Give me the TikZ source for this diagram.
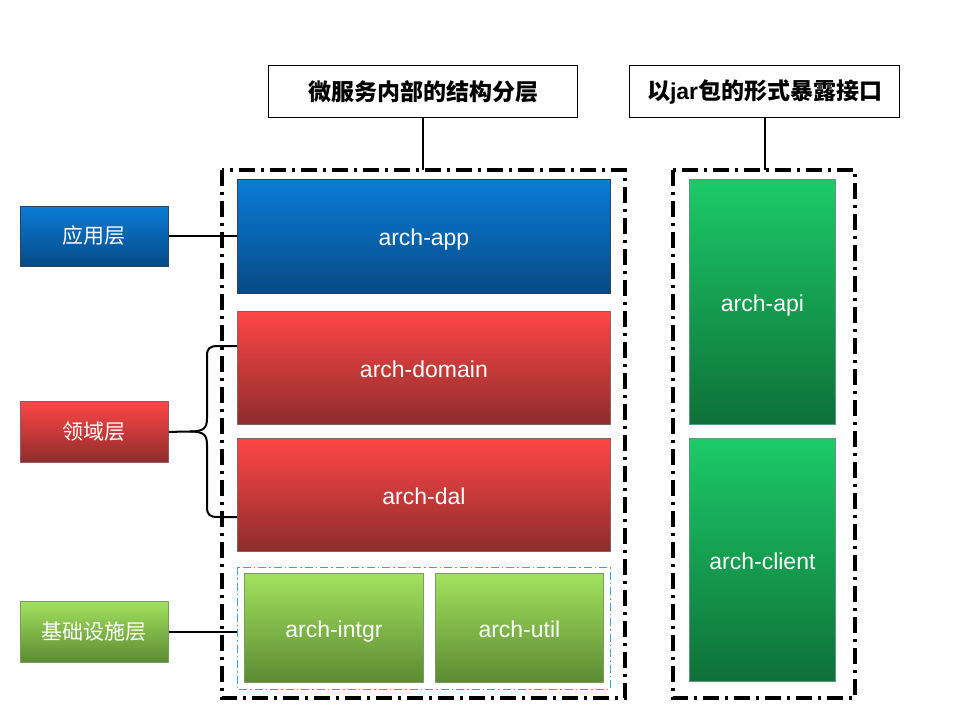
\documentclass[tikz,border=0pt]{standalone}
\usepackage{fontspec}
\setmainfont{Liberation Sans}
\newfontfamily\cjk{Noto Sans CJK SC}
\usetikzlibrary{positioning}
\begin{document}
\begin{tikzpicture}[x=1pt,y=-1pt,
  box/.style={draw=#1, line width=0.8pt, inner sep=0pt, anchor=north west, text=white, font=\fontsize{23}{26}\selectfont, text height=19pt, text depth=0pt},
  bluebox/.style={box=blueBd, top color=blueTop, bottom color=blueBot},
  redbox/.style={box=redBd, top color=redTop, bottom color=redBot},
  lgreen/.style={box=lgBd, top color=lgTop, bottom color=lgBot},
  dgreen/.style={box=dgBd, top color=dgTop, bottom color=dgBot},
  lab/.style={font=\cjk\fontsize{21}{24}\selectfont, text height=17pt, text depth=2pt},
  header/.style={draw=black, line width=1.2pt, anchor=north west, inner sep=0pt, font=\cjk\bfseries\fontsize{23}{26}\selectfont},
  frame/.style={draw=black, line width=3.4pt, dash pattern=on 16pt off 6pt on 3pt off 6pt},
  innerframe/.style={draw=cyanD, line width=1pt, dash pattern=on 8pt off 3pt on 1.5pt off 3pt},
  conn/.style={draw=black, line width=2pt}
]
\definecolor{blueTop}{HTML}{0A7CD6}
\definecolor{blueBot}{HTML}{064A86}
\definecolor{blueBd}{HTML}{304060}
\definecolor{redTop}{HTML}{FF4646}
\definecolor{redBot}{HTML}{8E2C2C}
\definecolor{redBd}{HTML}{8A6060}
\definecolor{lgTop}{HTML}{A2E25E}
\definecolor{lgBot}{HTML}{5C8A32}
\definecolor{lgBd}{HTML}{7A9A6A}
\definecolor{dgTop}{HTML}{1CCB68}
\definecolor{dgBot}{HTML}{0E7038}
\definecolor{dgBd}{HTML}{5A9A80}
\definecolor{cyanD}{HTML}{3AA6CC}
\useasboundingbox (0,0) rectangle (960,720);
\fill[white] (0,0) rectangle (960,720);

% headers
\node[header, minimum width=309pt, minimum height=52pt] (h1) at (268,65) {微服务内部的结构分层};
\node[header, minimum width=270pt, minimum height=52pt] (h2) at (629,65) {以{\fontspec{Liberation Sans}\bfseries jar}包的形式暴露接口};

% frames
\coordinate (f1nw) at (222,170);
\coordinate (f1se) at (625,698);
\coordinate (f2nw) at (673,170);
\coordinate (f2se) at (855,698);
\draw[frame] (f1nw) rectangle (f1se);
\draw[frame] (f2nw) rectangle (f2se);
\draw[conn] (h1.south) -- (h1.south |- f1nw);
\draw[conn] (h2.south) -- (h2.south |- f2nw);

% main boxes
\node[bluebox, minimum width=373pt, minimum height=114pt] (app) at (237,179) {arch-app};
\node[redbox, minimum width=373pt, minimum height=113pt] (domain) at (237,311) {arch-domain};
\node[redbox, minimum width=373pt, minimum height=113pt] (dal) at (237,438) {arch-dal};
\coordinate (i1nw) at (237,567);
\coordinate (i1se) at (610,689);
\draw[innerframe] (i1nw) rectangle (i1se);
\node[lgreen, minimum width=179pt, minimum height=109pt] (intgr) at (244,573) {arch-intgr};
\node[lgreen, minimum width=168pt, minimum height=109pt] (util) at (435,573) {arch-util};
\node[dgreen, minimum width=146pt, minimum height=245pt] (api) at (689,179) {arch-api};
\node[dgreen, minimum width=146pt, minimum height=243pt] (client) at (689,438) {arch-client};

% left labels
\node[bluebox, lab, minimum width=148pt, minimum height=60pt] (l1) at (20,206) {应用层};
\node[redbox, lab, minimum width=148pt, minimum height=61pt] (l2) at (20,401) {领域层};
\node[lgreen, lab, minimum width=148pt, minimum height=61pt] (l3) at (20,601) {基础设施层};

% connectors
\draw[conn] (l1.east) -- (l1.east -| app.west);
\draw[conn] (l3.east) -- (l3.east -| i1nw);
% brace
\coordinate (bt) at (237,346);
\coordinate (bb) at (237,517);
\draw[conn] (l2.east) -- (190,431.5)
  .. controls (204,431.5) and (207,428) .. (207,418)
  -- (207,356)
  .. controls (207,348) and (210,346) .. (218,346) -- (bt);
\draw[conn] (190,431.5)
  .. controls (204,431.5) and (207,435) .. (207,445)
  -- (207,507)
  .. controls (207,515) and (210,517) .. (218,517) -- (bb);
\end{tikzpicture}
\end{document}
